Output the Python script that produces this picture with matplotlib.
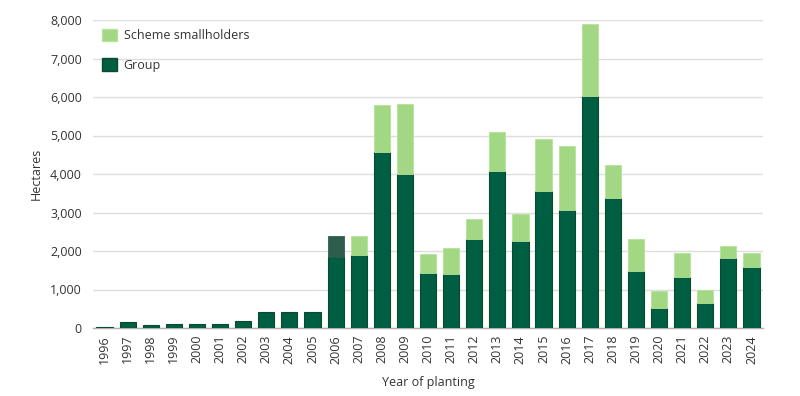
import matplotlib
matplotlib.use("Agg")
import matplotlib.pyplot as plt
from matplotlib.patches import Patch
from matplotlib.ticker import FuncFormatter

plt.rcParams['font.family'] = ['Open Sans', 'DejaVu Sans']

years = [str(y) for y in range(1996, 2025)]
group = [15, 148, 88, 96, 104, 96, 174, 426, 426, 408, 1840, 1900, 4580, 3990,
         1430, 1390, 2320, 4070, 2260, 3560, 3060, 6030, 3380, 1480, 520, 1320,
         650, 1810, 1590]
total = [15, 148, 88, 96, 104, 96, 174, 426, 426, 408, 2390, 2380, 5790, 5830,
         1910, 2090, 2840, 5080, 2970, 4900, 4740, 7900, 4240, 2320, 960, 1950,
         1000, 2120, 1960]
smallholders = [t - g for t, g in zip(total, group)]

DARK = '#005e42'
DARK_EDGE = '#0b4a2c'
LIGHT = '#a2d784'
LIGHT_EDGE = '#b6e29c'
TEXT = '#333333'

light_colors = [LIGHT] * len(years)
light_colors[years.index('2006')] = '#2e5d4c'
light_edges = [LIGHT_EDGE if s > 0 else 'none' for s in smallholders]
light_edges[years.index('2006')] = '#2e5d4c'

fig = plt.figure(figsize=(8, 3.96), dpi=100)
ax = fig.add_axes([93/800, 1 - 328/396, 670/800, 308/396])

x = list(range(len(years)))
ax.bar(x, group, width=0.7, color=DARK, edgecolor=DARK_EDGE, linewidth=0.8, zorder=3)
ax.bar(x, smallholders, bottom=group, width=0.7, color=light_colors,
       edgecolor=light_edges, linewidth=0.6, zorder=3)

ax.set_xlim(-0.5, 28.5)
ax.set_ylim(0, 8000)
ax.set_yticks(range(0, 8001, 1000))
ax.yaxis.set_major_formatter(FuncFormatter(lambda v, p: f"{int(v):,}"))
ax.set_xticks(x)
ax.set_xticklabels(years, rotation=90)
ax.grid(axis='y', color='#dddddd', linewidth=1, zorder=0)
ax.set_axisbelow(True)
for s in ['top', 'right', 'left']:
    ax.spines[s].set_visible(False)
ax.spines['bottom'].set_color('#b0b0b0')
ax.spines['bottom'].set_linewidth(1)
ax.tick_params(axis='y', length=0, pad=8, labelsize=9, labelcolor=TEXT)
ax.tick_params(axis='x', length=0, pad=5, labelsize=9, labelcolor=TEXT)

ax.set_ylabel('Hectares', fontsize=9, color=TEXT, labelpad=5)
ax.set_xlabel('Year of planting', fontsize=9, color=TEXT, labelpad=9)

handles = [Patch(facecolor=LIGHT, edgecolor=LIGHT_EDGE, label='Scheme smallholders'),
           Patch(facecolor=DARK, edgecolor=DARK_EDGE, label='Group')]
leg = ax.legend(handles=handles, loc='upper left', bbox_to_anchor=(0.013, 0.972),
                frameon=False, fontsize=9, handlelength=1.2, handleheight=1.2,
                handletextpad=0.55, labelspacing=1.3, borderpad=0, borderaxespad=0)
for t in leg.get_texts():
    t.set_color(TEXT)

fig.savefig('out.png', dpi=100)
